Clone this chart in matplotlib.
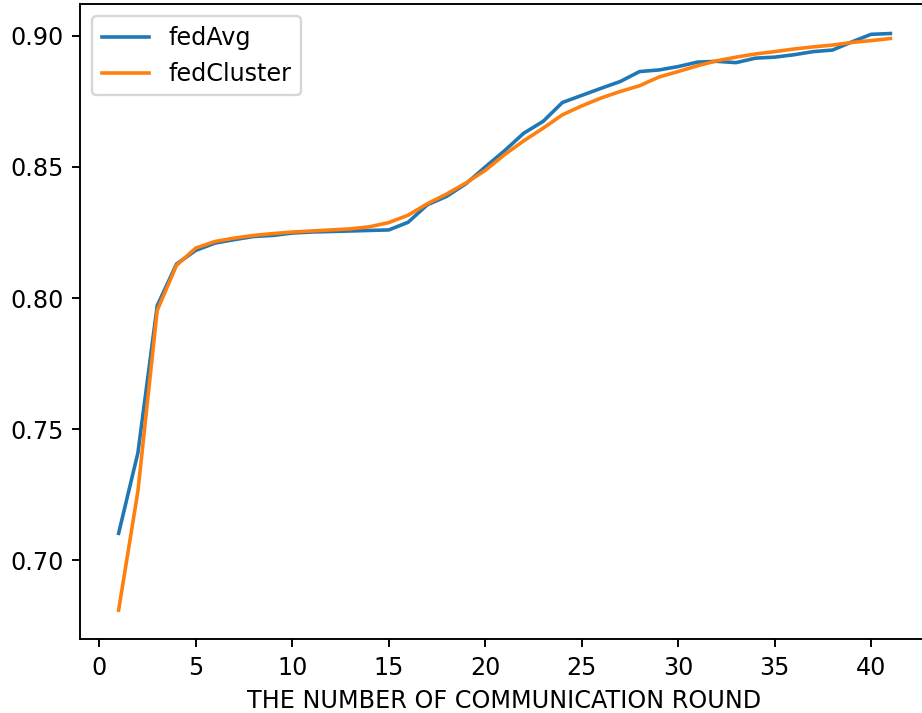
import numpy as np
import matplotlib
matplotlib.use("Agg")
import matplotlib.pyplot as plt

# accuracy per communication round
rounds = np.arange(1, 42)
fed_avg = [0.7103, 0.7410, 0.7971, 0.8130, 0.8182, 0.8210, 0.8223, 0.8235, 0.8239, 0.8248,
           0.8252, 0.8254, 0.8256, 0.8258, 0.8260, 0.8289, 0.8356, 0.8388, 0.8436, 0.8500,
           0.8562, 0.8629, 0.8674, 0.8746, 0.8773, 0.8800, 0.8826, 0.8864, 0.8870, 0.8883,
           0.8900, 0.8903, 0.8898, 0.8915, 0.8919, 0.8928, 0.8940, 0.8946, 0.8977, 0.9006,
           0.9009]
fed_cluster = [0.6810, 0.7264, 0.7953, 0.8125, 0.8191, 0.8216, 0.8229, 0.8239, 0.8246, 0.8252,
               0.8256, 0.8260, 0.8264, 0.8272, 0.8288, 0.8316, 0.8360, 0.8397, 0.8439, 0.8487,
               0.8547, 0.8600, 0.8648, 0.8699, 0.8733, 0.8763, 0.8788, 0.8810, 0.8843, 0.8864,
               0.8886, 0.8905, 0.8919, 0.8931, 0.8940, 0.8950, 0.8958, 0.8965, 0.8975, 0.8982,
               0.8990]

DPI = 172
fig = plt.figure(figsize=(922 / DPI, 713 / DPI), dpi=DPI)
ax = fig.add_axes([0.0868, 0.1038, 0.9208, 0.8900])

ax.plot(rounds, fed_avg, label="fedAvg")
ax.plot(rounds, fed_cluster, label="fedCluster")

ax.set_xlim(-1, 43)
ax.set_ylim(0.670, 0.912)
ax.set_yticks([0.70, 0.75, 0.80, 0.85, 0.90])
ax.set_xlabel("THE NUMBER OF COMMUNICATION ROUND")
ax.legend(loc="upper left")

fig.savefig("out.png", dpi=DPI)
